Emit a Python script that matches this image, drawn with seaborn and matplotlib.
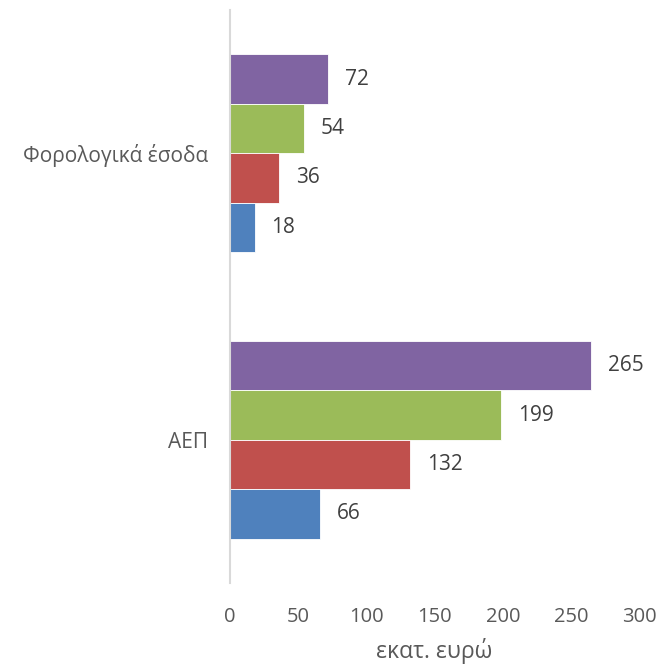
import pandas as pd
import matplotlib
matplotlib.use('Agg')
import matplotlib.pyplot as plt
import seaborn as sns

categories = ['Φορολογικά έσοδα', 'ΑΕΠ']
series_names = ['Σειρά 4', 'Σειρά 3', 'Σειρά 2', 'Σειρά 1']  # top to bottom
tax_values = [72, 54, 36, 18]
gdp_values = [265, 199, 132, 66]
colors = ['#8064A2', '#9BBB59', '#C0504D', '#4F81BD']
x_ticks = [0, 50, 100, 150, 200, 250, 300]

rows = []
for s, v in zip(series_names, tax_values):
    rows.append({'cat': categories[0], 'series': s, 'value': v})
for s, v in zip(series_names, gdp_values):
    rows.append({'cat': categories[1], 'series': s, 'value': v})
df = pd.DataFrame(rows)

sns.set_style('white')
plt.rcParams['font.family'] = ['Open Sans', 'DejaVu Sans']

fig = plt.figure(figsize=(6.61, 6.64), dpi=100)
ax = fig.add_axes([0.348, 0.122, 0.619, 0.863])

sns.barplot(data=df, x='value', y='cat', hue='series', hue_order=series_names,
            order=categories, palette=colors, saturation=1, orient='h',
            width=0.69, gap=0, edgecolor='white', linewidth=0.6,
            legend=False, ax=ax)

for cont in ax.containers:
    ax.bar_label(cont, padding=12, fontsize=15, color='#404040')

ax.set_xlim(0, 300)
ax.set_ylim(1.5, -0.5)
ax.set_xticks(x_ticks)
ax.set_xticklabels([str(t) for t in x_ticks])
ax.tick_params(axis='x', length=0, pad=17, labelsize=14.5, labelcolor='#595959')
ax.tick_params(axis='y', length=0, pad=16, labelsize=15, labelcolor='#595959')
ax.set_xlabel('εκατ. ευρώ', fontsize=16.5, color='#595959', labelpad=8)
ax.set_ylabel('')

for side in ['top', 'right', 'bottom']:
    ax.spines[side].set_visible(False)
ax.spines['left'].set_color('#D9D9D9')
ax.spines['left'].set_linewidth(1.5)

fig.savefig('out.png', dpi=100)
